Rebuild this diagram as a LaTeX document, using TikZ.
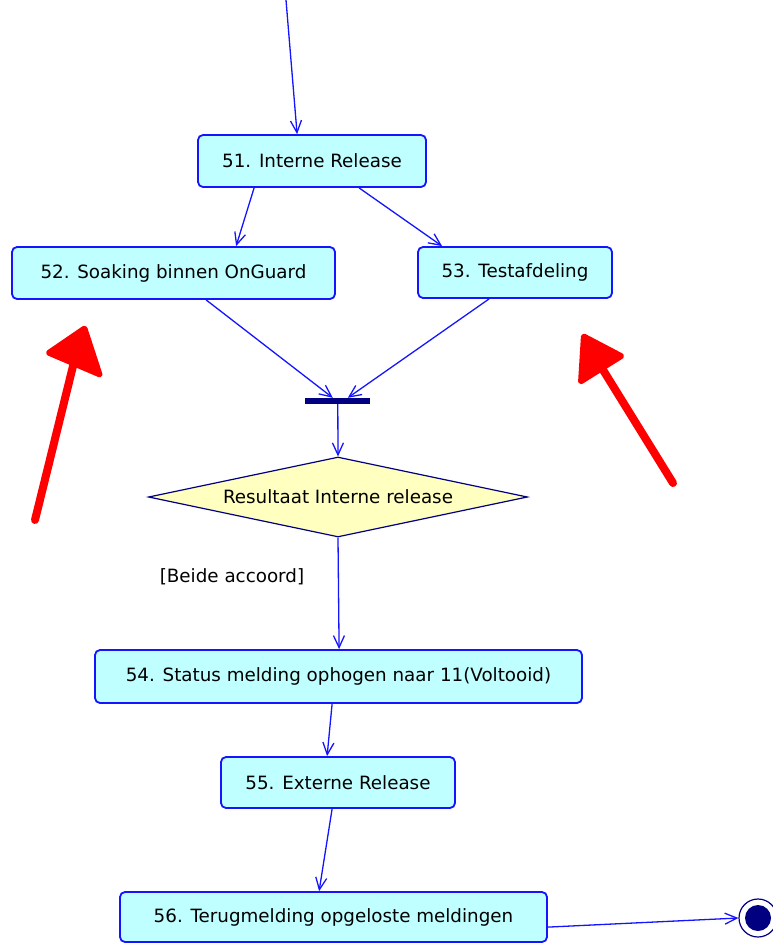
\documentclass[tikz,border=0pt]{standalone}
\usepackage{fontspec}
\setmainfont{DejaVu Sans}
\usetikzlibrary{arrows.meta,shapes.geometric,calc}
\definecolor{boxfill}{RGB}{192,255,255}
\definecolor{linkblue}{RGB}{20,20,255}
\definecolor{navy}{RGB}{0,0,128}
\definecolor{decfill}{RGB}{255,255,192}
\definecolor{markred}{RGB}{255,0,0}
\begin{document}
\begin{tikzpicture}[x=1pt,y=-1pt,
  font=\fontsize{18.3}{22}\selectfont,
  activity/.style={draw=linkblue,fill=boxfill,line width=1.8pt,rounded corners=5pt,
    inner sep=0pt,anchor=center},
  decision/.style={diamond,draw=navy,fill=decfill,line width=1.2pt,inner sep=0pt,
    shape aspect=4.74,minimum width=379pt,minimum height=80pt},
  joinbar/.style={fill=navy,inner sep=0pt,minimum width=65pt,minimum height=6pt},
  flow/.style={draw=linkblue,line width=1.3pt,-{Straight Barb[length=12pt,width=11pt,line width=1.3pt]}},
  markarrow/.style={draw=markred,line width=8pt,line cap=round},
  markhead/.style={fill=markred,draw=markred,line width=4pt,line join=round}
]
\useasboundingbox (0,0) rectangle (773,943);

% activities
\node[activity,minimum width=228pt,minimum height=52pt] (a51) at (312,161) {51. Interne Release};
\node[activity,minimum width=323pt,minimum height=52pt] (a52) at (173.5,273) {52. Soaking binnen OnGuard};
\node[activity,minimum width=194pt,minimum height=51pt] (a53) at (515,272.5) {53. Testafdeling};
\node[joinbar] (join) at (337.5,401) {};
\node[decision] (dec) at (338,497) {Resultaat Interne release};
\node (guard) at (232,577) {[Beide accoord]};
\node[activity,minimum width=487pt,minimum height=53pt] (a54) at (338.5,676.5) {54. Status melding ophogen naar 11(Voltooid)};
\node[activity,minimum width=234pt,minimum height=51pt] (a55) at (338,782.5) {55. Externe Release};
\node[activity,minimum width=427pt,minimum height=50pt] (a56) at (333.5,917) {56. Terugmelding opgeloste meldingen};

% final state
\node[circle,draw=navy,line width=1.2pt,minimum size=38pt,inner sep=0pt] (final) at (758,918) {};
\fill[navy] (final.center) circle (13);

% incoming flow
\coordinate (entry) at (286,0);

% control flows
\draw[flow] (entry) -- ($(a51.north west)+(100,0)$);
\draw[flow] ($(a51.south west)+(57,0)$) -- ($(a52.north west)+(225,0)$);
\draw[flow] ($(a51.south west)+(162,0)$) -- ($(a53.north west)+(25,0)$);
\draw[flow] ($(a52.south west)+(195,0)$) -- ($(join.north west)+(28,0)$);
\draw[flow] ($(a53.south west)+(72,0)$) -- ($(join.north west)+(43,0)$);
\draw[flow] ($(join.south west)+(33,0)$) -- (dec.north);
\draw[flow] (dec.south) -- ($(a54.north west)+(245,0)$);
\draw[flow] ($(a54.south west)+(238,0)$) -- ($(a55.north west)+(107,0)$);
\draw[flow] ($(a55.south west)+(112,0)$) -- ($(a56.north west)+(200,0)$);
\draw[flow] ($(a56.north east)+(0,36)$) -- (final.west);

% red marker arrows
\draw[markarrow] (35,520) -- (74,362);
\fill[markhead,rounded corners=2pt] (85,327) -- (47,353) -- (101,376) -- cycle;
\draw[markarrow] (673,483) -- (600,365);
\fill[markhead,rounded corners=2pt] (583,335) -- (580,383) -- (623,356) -- cycle;
\end{tikzpicture}
\end{document}
